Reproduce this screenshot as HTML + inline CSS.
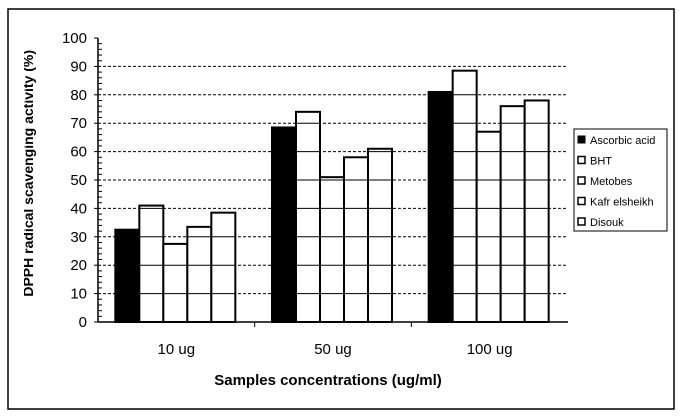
<!DOCTYPE html>
<html><head><meta charset="utf-8"><style>
html,body{margin:0;padding:0;background:#fff;}
svg{display:block;font-family:"Liberation Sans",sans-serif;}
</style></head><body>
<svg id="chart" width="681" height="420" viewBox="0 0 681 420">
<defs><clipPath id="yclip"><rect x="24" y="0" width="40" height="420"/></clipPath></defs>
<rect x="8" y="9" width="666" height="400" fill="#fff" stroke="#000" stroke-width="1.5"/>
<g id="grid"></g><g id="bars"></g><g id="axes"></g>
<g clip-path="url(#yclip)">
<text x="33" y="50" transform="rotate(-90 33 50)" text-anchor="end" font-size="14" font-weight="bold">DPPH radical scavenging activity (%)</text>
</g>
<text x="328" y="385" text-anchor="middle" font-size="15" font-weight="bold">Samples concentrations (ug/ml)</text>
<g id="legend"></g>
</svg>
<script>
const categories = ["10 ug", "50 ug", "100 ug"];
const seriesNames = ["Ascorbic acid", "BHT", "Metobes", "Kafr elsheikh", "Disouk"];
const ascorbic = [32.5, 68.5, 81];
const bht = [41, 74, 88.5];
const metobes = [27.5, 51, 67];
const kafr = [33.5, 58, 76];
const disouk = [38.5, 61, 78];
const yTicks = [0,10,20,30,40,50,60,70,80,90,100];

const series = [ascorbic, bht, metobes, kafr, disouk];
const NS = "http://www.w3.org/2000/svg";
const X0 = 98, X1 = 568, Y0 = 322, Y1 = 38;
const y = v => Y0 - (v/100)*(Y0-Y1);
const catW = (X1-X0)/categories.length;
const barW = 24;
const bx = (c,s) => X0 + catW*c + catW/2 - barW*series.length/2 + s*barW - 1;
function mk(tag, attrs, parent){const e=document.createElementNS(NS,tag);for(const k in attrs)e.setAttribute(k,attrs[k]);parent.appendChild(e);return e;}
const grid=document.getElementById('grid'), bars=document.getElementById('bars'), axes=document.getElementById('axes'), legend=document.getElementById('legend');

yTicks.forEach(t=>{
  if(t>0 && t<100){
    const l=mk('line',{x1:X0,x2:X1,y1:y(t),y2:y(t),stroke:'#000','stroke-width':1,'stroke-dasharray':'3,2'},grid);
    
    
  }
  const tk=mk('line',{x1:X0-4,x2:X0,y1:y(t),y2:y(t),stroke:'#000'},axes);
  
  
  const lb=mk('text',{x:87,y:y(t)+5,'text-anchor':'end','font-size':15},axes);
  lb.textContent=t;
  
  
});
for(let v=2;v<100;v+=2){ if(v%10) { const m=mk('line',{x1:X0,x2:X0+4,y1:y(v),y2:y(v),stroke:'#000'},axes);   } }

series.forEach((arr,s)=>{
  arr.forEach((v,c)=>{
    const r=mk('rect',{x:bx(c,s),y:y(v),width:barW,height:Y0-y(v),fill:s===0?'#000':'#fff',stroke:'#000','stroke-width':2},bars);
    
    
    if(s>0) yTicks.forEach(t=>{ if(t>0 && t<v){ const g=mk('line',{x1:bx(c,s),x2:bx(c,s)+barW,y1:y(t),y2:y(t),stroke:'#000','stroke-width':1},bars);   } });
  });
});

const ya=mk('line',{x1:X0,x2:X0,y1:Y1,y2:Y0,stroke:'#000','stroke-width':1.5},axes);


const xa=mk('line',{x1:X0,x2:X1,y1:Y0,y2:Y0,stroke:'#000','stroke-width':1.5},axes);


categories.forEach((c,i)=>{
  if(i>0){ const t=mk('line',{x1:X0+catW*i,x2:X0+catW*i,y1:Y0,y2:Y0+5,stroke:'#000'},axes);   }
  const lb=mk('text',{x:X0+catW*i+catW/2,y:354,'text-anchor':'middle','font-size':15},axes);
  lb.textContent=c;
  
  
});

const lbox=mk('rect',{x:574,y:129,width:93,height:102,fill:'#fff',stroke:'#000','stroke-width':1},legend);


seriesNames.forEach((n,i)=>{
  const yy=142+i*20.5;
  const sw=mk('rect',{x:578,y:yy-6,width:7,height:7,fill:i===0?'#000':'#fff',stroke:'#000','stroke-width':i===0?1:1.5},legend);
  
  
  const t=mk('text',{x:590,y:yy+2,'font-size':11},legend);
  t.textContent=n;
  
  
});
</script>
</body></html>
